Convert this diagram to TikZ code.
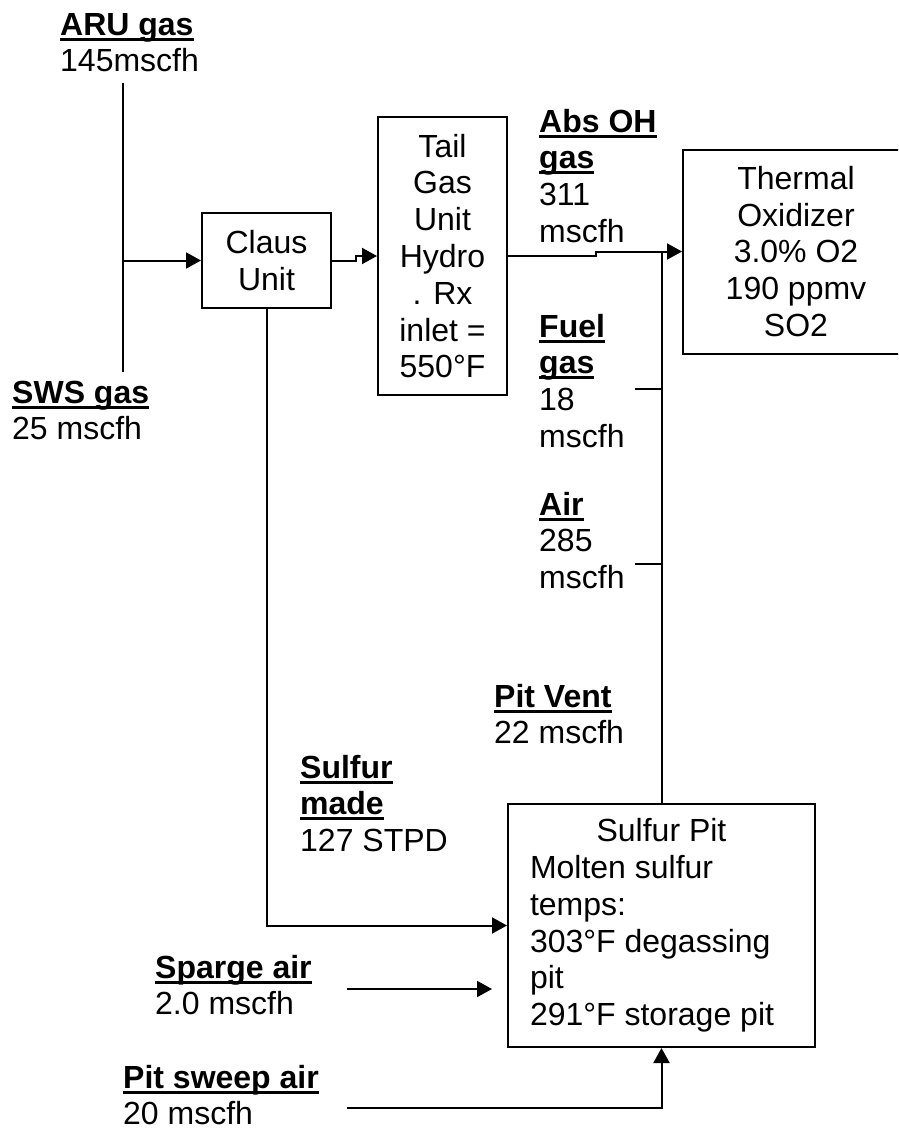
\documentclass[tikz,border=0pt]{standalone}
\usepackage{fontspec}
\setmainfont{Liberation Sans}
\usetikzlibrary{arrows.meta}
\newcommand\myul[1]{\setbox0=\hbox{#1}\rlap{\rule[-5.5pt]{\wd0}{3pt}}\box0}
\newcommand\cstack[1]{\vtop{\baselineskip=36.8pt\lineskiplimit=-100pt\halign{\hfil##\hfil\cr#1\crcr}}}
\newcommand\lstack[1]{\vtop{\baselineskip=36.8pt\lineskiplimit=-100pt\halign{##\hfil\cr#1\crcr}}}
\begin{document}
\begin{tikzpicture}[x=1pt,y=-1pt,
  every node/.style={font=\fontsize{32}{36.8}\selectfont},
  box/.style={draw,line width=2pt,inner sep=0pt},
  lbl/.style={anchor=base west,inner sep=0pt},
  flow/.style={line width=2pt},
  arr/.style={flow,-{Triangle[length=15pt,width=16pt]}}]
\useasboundingbox (0,0) rectangle (898,1130);
\clip (0,0) rectangle (898,1130);

% process boxes
\node[box,minimum width=129pt,minimum height=95pt] (claus) at (266.5,260.5) {\cstack{Claus\cr Unit}};
\node[box,minimum width=129pt,minimum height=278pt] (tgu) at (442.5,256) {\cstack{Tail\cr Gas\cr Unit\cr Hydro\cr . Rx\cr inlet =\cr 550°F}};
\node[box,minimum width=226pt,minimum height=204pt] (to) at (796,251.5) {\cstack{Thermal\cr Oxidizer\cr 3.0\% O2\cr 190 ppmv\cr SO2}};
\node[box,minimum width=307pt,minimum height=243pt] (pit) at (661.5,925.5) {\lstack{\hbox to 263pt{\hfil Sulfur Pit\hfil}\cr Molten sulfur\cr temps:\cr 303°F degassing\cr pit\cr 291°F storage pit}};

% stream labels
\node[lbl] (aru) at (60,35) {\lstack{\myul{\textbf{ARU gas}}\cr 145mscfh}};
\node[lbl] (sws) at (12,403) {\lstack{\myul{\textbf{SWS gas}}\cr 25 mscfh}};
\node[lbl] (abs) at (539,132) {\lstack{\myul{\textbf{Abs OH}}\cr \myul{\textbf{gas}}\cr 311\cr mscfh}};
\node[lbl] (fuel) at (539,337) {\lstack{\myul{\textbf{Fuel}}\cr \myul{\textbf{gas}}\cr 18\cr mscfh}};
\node[lbl] (air) at (539,515) {\lstack{\myul{\textbf{Air}}\cr 285\cr mscfh}};
\node[lbl] (vent) at (494,707) {\lstack{\myul{\textbf{Pit Vent}}\cr 22 mscfh}};
\node[lbl] (sulf) at (300,778) {\lstack{\myul{\textbf{Sulfur}}\cr \myul{\textbf{made}}\cr 127 STPD}};
\node[lbl] (sparge) at (155,978) {\lstack{\myul{\textbf{Sparge air}}\cr 2.0 mscfh}};
\node[lbl] (sweep) at (123,1088) {\lstack{\myul{\textbf{Pit sweep air}}\cr 20 mscfh}};

% connectors
\coordinate (aruEnd) at (123,83);
\coordinate (swsEnd) at (123,372);
\coordinate (mix) at (123,260.5);
\draw[flow] (aruEnd) -- (swsEnd);
\draw[arr] (mix) -- (claus.west);
\draw[arr] (claus.east) -- ++(24,0) |- (tgu.west);
\draw[arr] (tgu.east) -- ++(88,0) |- (to.west);
\coordinate (ventTop) at (pit.north |- to.west);
\draw[flow] (pit.north) -- (ventTop);
\coordinate (fuelIn) at (635,389);
\draw[flow] (fuelIn) -- (fuelIn -| pit.north);
\coordinate (airIn) at (635,564);
\draw[flow] (airIn) -- (airIn -| pit.north);
\draw[arr] (claus.south) |- (pit.west);
\coordinate (spargeA) at (347,989);
\coordinate (spargeB) at (492,989);
\draw[arr] (spargeA) -- (spargeB);
\coordinate (sweepA) at (347,1108);
\draw[arr] (sweepA) -| (pit.south);
\end{tikzpicture}
\end{document}
